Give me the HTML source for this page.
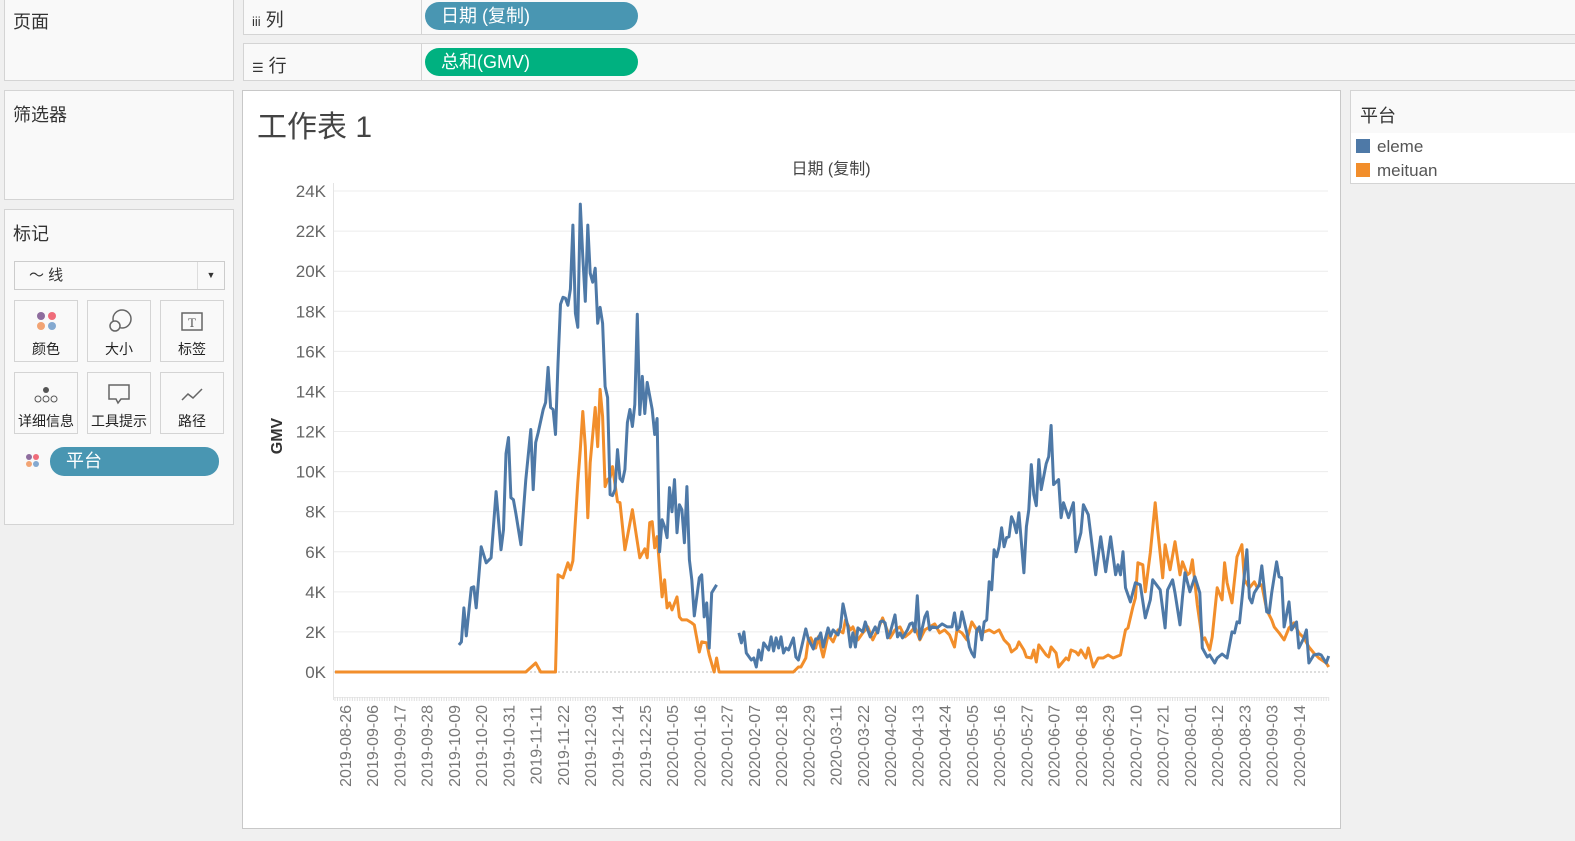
<!DOCTYPE html>
<html style="overflow:hidden;width:1575px;height:841px;margin:0;padding:0"><head><meta charset="utf-8">
<style>
html,body{margin:0;padding:0}
body{width:1575px;height:841px;background:#f0f0f0;font-family:"Liberation Sans","Noto Sans CJK SC",sans-serif;overflow:hidden;color:#333}
#root{position:fixed;left:0;top:0;width:1575px;height:841px;overflow:hidden;background:#f0f0f0}
.box{position:absolute;background:#f9f9f9;border:1px solid #d4d4d4;box-sizing:border-box}
.hd{position:absolute;font-size:18px;color:#333}
.pill{position:absolute;border-radius:14px;color:#fff;font-size:18px;padding-left:16px;box-sizing:border-box;line-height:28px}
.card{position:absolute;width:64px;height:62px;border:1px solid #d4d4d4;background:#f9f9f9;box-sizing:border-box;text-align:center;font-size:14px;color:#222}
.card .lb{position:absolute;bottom:2px;left:0;right:0}
</style></head><body>
<div id="root">
<div class="box" style="left:4px;top:-1px;width:230px;height:82px"><div class="hd" style="left:8px;top:8px">页面</div></div>
<div class="box" style="left:4px;top:90px;width:230px;height:110px"><div class="hd" style="left:8px;top:10px">筛选器</div></div>
<div class="box" style="left:4px;top:209px;width:230px;height:316px">
 <div class="hd" style="left:8px;top:10px">标记</div>
 <div style="position:absolute;left:9px;top:51px;width:211px;height:29px;border:1px solid #ccc;background:#f9f9f9;box-sizing:border-box;font-size:15px;line-height:27px;padding-left:14px">〜 线<span style="position:absolute;right:0;top:0;width:26px;height:27px;border-left:1px solid #ddd;text-align:center;font-size:9px">▼</span></div>
 <div class="card" style="left:9px;top:90px"><svg width="62" height="40"><circle cx="26" cy="15" r="4" fill="#8e6d9e"/><circle cx="37" cy="15" r="4" fill="#ef6c7a"/><circle cx="26" cy="25" r="4" fill="#f2a474"/><circle cx="37" cy="25" r="4" fill="#84a9d0"/></svg><div class="lb">颜色</div></div>
 <div class="card" style="left:82px;top:90px"><svg width="62" height="40"><circle cx="34" cy="18" r="9" fill="none" stroke="#666" stroke-width="1.5"/><circle cx="27" cy="25" r="5" fill="#f9f9f9" stroke="#666" stroke-width="1.5"/></svg><div class="lb">大小</div></div>
 <div class="card" style="left:155px;top:90px"><svg width="62" height="40"><rect x="21" y="12" width="20" height="17" fill="none" stroke="#666" stroke-width="1.5"/><text x="31" y="26" font-size="13" text-anchor="middle" fill="#555" font-family="Liberation Serif">T</text></svg><div class="lb">标签</div></div>
 <div class="card" style="left:9px;top:162px"><svg width="62" height="40"><circle cx="31" cy="17" r="3" fill="#555"/><circle cx="23" cy="26" r="3" fill="none" stroke="#555"/><circle cx="31" cy="26" r="3" fill="none" stroke="#555"/><circle cx="39" cy="26" r="3" fill="none" stroke="#555"/></svg><div class="lb">详细信息</div></div>
 <div class="card" style="left:82px;top:162px"><svg width="62" height="40"><path d="M21 12h20v14h-8l-3 4-2-4h-7z" fill="none" stroke="#666" stroke-width="1.5"/></svg><div class="lb">工具提示</div></div>
 <div class="card" style="left:155px;top:162px"><svg width="62" height="40"><path d="M21 27l6-6 5 4 9-9" fill="none" stroke="#666" stroke-width="1.5"/></svg><div class="lb">路径</div></div>
 <svg style="position:absolute;left:20px;top:243px" width="16" height="16"><circle cx="4" cy="4" r="3" fill="#8e6d9e"/><circle cx="11" cy="4" r="3" fill="#ef6c7a"/><circle cx="4" cy="11" r="3" fill="#f2a474"/><circle cx="11" cy="11" r="3" fill="#84a9d0"/></svg>
 <div class="pill" style="left:45px;top:237px;width:169px;height:29px;background:#4996b2">平台</div>
</div>
<div class="box" style="left:243px;top:-1px;width:1332px;height:36px;border-right:none"><div class="hd" style="left:8px;top:6px"><span style="font-size:13px">iii</span> 列</div><div style="position:absolute;left:177px;top:0;bottom:0;border-left:1px solid #d4d4d4"></div></div>
<div class="pill" style="left:425px;top:2px;width:213px;height:28px;background:#4996b2">日期 (复制)</div>
<div class="box" style="left:243px;top:43px;width:1332px;height:38px;border-right:none"><div class="hd" style="left:8px;top:8px"><span style="font-size:13px">☰</span> 行</div><div style="position:absolute;left:177px;top:0;bottom:0;border-left:1px solid #d4d4d4"></div></div>
<div class="pill" style="left:425px;top:48px;width:213px;height:28px;background:#00b180">总和(GMV)</div>
<div class="box" style="left:1350px;top:90px;width:225px;height:94px;background:#fff;border-right:none">
 <div style="position:absolute;left:0;top:0;right:0;height:42px;background:#f9f9f9"></div>
 <div class="hd" style="left:9px;top:11px">平台</div>
 <div style="position:absolute;left:5px;top:46px;font-size:17px;color:#555"><span style="display:inline-block;width:14px;height:14px;background:#4e79a7;vertical-align:-1px;margin-right:7px"></span>eleme</div>
 <div style="position:absolute;left:5px;top:70px;font-size:17px;color:#555"><span style="display:inline-block;width:14px;height:14px;background:#f28e2b;vertical-align:-1px;margin-right:7px"></span>meituan</div>
</div>
<div class="box" style="left:242px;top:90px;width:1099px;height:739px;background:#fff;border-color:#c8c8c8"></div>
<svg id="chart" width="1575" height="841" style="position:absolute;left:0;top:0;display:block" font-family="Liberation Sans, Noto Sans CJK SC, sans-serif"></svg>
</div>
<script>
const startDate = Date.UTC(2019,7,22);
const yTicks = [0,2,4,6,8,10,12,14,16,18,20,22,24];
const elemeDays = [50,51,52,53,55,56,57,58,59,61,63,65,67,68,69,70,71,72,73,75,77,79,80,81,82,84,85,86,87,88,89,90,91,92,93,94,95,96,97,98,99,100,101,102,103,104,105,106,107,108,109,110,111,112,113,114,115,116,117,118,119,120,121,122,123,124,125,126,128,129,130,131,132,133,134,135,136,137,138,139,140,141,142,143,144,145,147,148,149,150,151,152,154];
const elemeGMV = [1.35,1.5,3.2,1.8,4.2,4.25,3.2,4.7,6.25,5.45,5.7,9.0,6.1,7.1,10.9,11.7,8.7,8.6,7.9,6.35,9.6,12.1,9.1,11.45,11.95,13.1,13.45,15.2,13.2,13.1,11.85,15.4,18.35,18.7,18.65,18.3,19.1,22.3,17.9,17.2,23.35,20.7,18.5,22.3,19.9,19.45,20.15,17.4,18.2,17.4,14.25,13.7,8.85,8.8,9.1,11.1,9.65,9.5,10.1,12.45,13.1,12.25,13.35,17.85,12.85,14.75,12.9,14.45,13.1,11.85,12.65,6.0,7.6,7.25,6.7,9.2,8.0,9.6,6.95,8.35,8.1,6.45,9.25,5.6,4.6,2.8,4.7,4.85,2.75,3.45,1.2,3.95,4.35];
const elemeDays2 = [163,164,165,166,168,169,170,171,172,173,175,176,177,178,179,180,181,182,183,185,186,187,188,190,191,193,194,195,196,197,199,200,201,203,204,205,207,208,209,210,211,213,214,215,216,218,219,220,221,222,223,224,226,227,228,229,231,232,233,234,235,236,238,239,240,241,243,245,247,249,250,251,252,253,255,256,257,258,259,260,261,262,263,264,265,266,267,268,269,270,271,272,273,274,275,276,278,279,280,281,282,283,284,285,287,288,289,290,292,293,294,296,298,299,301,302,304,307,309,311,313,315,316,317,318,319,321,323,325,327,329,330,333,335,336,338,339,341,342,343,345,347,349,350,352,353,355,356,358,360,362,363,364,365,366,368,369,370,371,373,374,376,377,378,380,381,382,383,385,386,388,389,391,392,393,395,397,398,400,401];
const elemeGMV2 = [1.95,1.45,2.0,0.95,0.6,0.7,0.25,1.1,0.6,1.45,1.1,1.75,1.05,1.7,1.2,1.75,0.95,1.2,1.1,1.7,0.75,0.6,1.1,2.15,1.65,1.15,1.65,1.65,1.95,1.25,2.2,1.8,2.1,1.85,2.25,3.4,2.25,1.25,1.95,1.25,2.2,2.0,2.5,2.1,1.75,2.25,1.95,2.5,2.55,2.45,1.7,1.95,2.85,1.75,1.95,1.7,2.1,2.4,2.45,2.0,3.8,1.65,2.75,3.0,2.1,2.25,2.2,2.4,2.25,2.25,2.95,2.1,2.25,3.0,1.95,1.25,0.95,0.75,2.1,2.25,1.6,2.5,2.6,4.5,4.1,6.1,5.75,6.25,7.2,6.25,6.7,6.75,7.75,7.45,6.95,7.95,4.95,7.25,8.1,10.35,8.85,8.3,10.6,9.1,10.4,10.75,12.3,9.35,9.6,7.7,8.45,7.7,8.45,6.0,6.95,8.35,7.85,4.85,6.75,5.0,6.75,4.85,5.35,4.85,6.0,4.2,3.5,4.45,4.35,2.7,3.6,4.6,4.1,2.2,4.1,4.6,3.95,2.35,3.75,4.95,4.0,4.75,3.95,1.2,0.75,0.85,0.45,0.7,0.9,0.7,2.0,1.95,2.5,2.45,3.6,6.1,3.7,3.45,3.95,4.35,5.3,3.0,2.95,3.95,5.5,4.75,4.7,2.25,3.5,2.1,2.5,1.2,1.7,2.1,0.45,0.85,0.9,0.85,0.45,0.8];
const meituanDays = [0,77,81,83,89,90,92,94,95,96,98,99,100,101,102,103,105,106,107,108,109,110,111,112,114,115,117,118,120,122,123,125,126,127,128,129,130,132,133,134,135,136,138,139,140,142,144,145,147,148,150,151,153,154,155,185,187,188,190,191,192,194,195,197,199,201,203,205,206,208,209,211,213,215,217,219,221,224,226,228,230,232,234,236,238,240,242,244,246,248,250,251,253,255,257,259,261,264,266,268,270,272,273,275,276,278,279,281,282,283,284,287,288,289,291,292,295,296,297,299,300,301,303,304,306,308,310,312,314,315,317,319,320,322,323,324,326,327,329,331,332,334,335,337,339,341,342,344,345,346,348,350,351,353,354,356,358,359,360,362,364,366,367,369,371,372,374,376,378,379,381,383,385,387,389,391,393,395,397,400,401];
const meituanGMV = [0,0,0.45,0,0,4.85,4.7,5.45,5.1,5.55,9.45,11.1,13.0,11.25,7.7,10.45,13.2,11.25,14.1,12.75,9.25,9.6,9.7,10.25,8.5,8.45,6.1,6.75,8.1,6.5,5.7,6.15,5.7,7.45,7.5,6.2,6.75,3.75,4.6,3.2,3.45,3.1,3.75,2.75,2.6,2.6,2.45,2.35,1.0,1.5,1.45,0.85,0,0.7,0,0,0.25,0.25,0.7,1.6,1.7,1.2,1.75,0.75,1.85,1.5,2.1,1.95,2.6,2.1,2.25,1.6,1.95,2.25,1.6,2.1,2.7,1.7,2.1,2.25,1.75,1.95,2.25,1.6,2.1,2.25,2.4,1.95,2.1,1.85,1.25,2.1,1.95,1.6,2.5,2.1,1.95,2.1,1.95,2.1,1.6,1.35,1.0,1.2,1.5,1.1,0.75,0.7,1.1,0.5,1.35,0.85,0.75,1.25,0.95,0.25,0.7,0.6,1.1,1.0,0.85,1.1,0.7,1.2,0.25,0.7,0.7,0.85,0.7,0.75,0.85,2.1,2.2,3.25,3.7,5.45,5.35,4.0,5.95,8.45,7.1,4.7,6.35,5.1,6.5,4.85,5.5,4.85,4.95,5.6,3.35,1.6,1.7,1.1,1.75,4.2,3.6,5.45,4.45,3.45,5.75,6.35,4.6,4.2,4.5,4.25,4.35,3.1,2.6,2.25,1.95,1.6,2.2,2.45,1.95,1.7,1.25,0.95,0.7,0.45,0.25];
const tickDays = [4,15,26,37,48,59,70,81,92,103,114,125,136,147,158,169,180,191,202,213,224,235,246,257,268,279,290,301,312,323,334,345,356,367,378,389];

const svg = document.getElementById('chart');
const NS = 'http://www.w3.org/2000/svg';
const x = d => 335 + d * 2.478;
const y = v => 672 - v * 20.04;
function mk(tag, attrs, parent){const e=document.createElementNS(NS,tag);for(const k in attrs)e.setAttribute(k,attrs[k]);(parent||svg).appendChild(e);return e;}
function fmt(d){const t=new Date(startDate+d*86400000);return t.getUTCFullYear()+'-'+String(t.getUTCMonth()+1).padStart(2,'0')+'-'+String(t.getUTCDate()).padStart(2,'0');}

const title = mk('text',{x:257,y:137,'font-size':30,fill:'#444'});
title.textContent='工作表 1';


const xt = mk('text',{x:831,y:174,'font-size':16,fill:'#444','text-anchor':'middle'});
xt.textContent='日期 (复制)';


const yt = mk('text',{transform:'translate(282,436) rotate(-90)','font-size':16,'font-weight':'bold',fill:'#333','text-anchor':'middle'});
yt.textContent='GMV';



yTicks.forEach(v=>{
  const g = mk('line',{x1:334,x2:1328,y1:y(v*1),y2:y(v*1),stroke:v===0?'#bbb':'#ececec','stroke-width':1,'stroke-dasharray':v===0?'2,2':''});
  
  
  const t = mk('text',{x:326,y:y(v)+6,'font-size':17,fill:'#666','text-anchor':'end'});
  t.textContent=v+'K';
  
  
});
mk('line',{x1:333.5,x2:333.5,y1:183,y2:700,stroke:'#e4e4e4'});
mk('line',{x1:334,x2:1328,y1:697.5,y2:697.5,stroke:'#eaeaea'});
for(let d=0; d<=401; d++){ mk('line',{x1:x(d),x2:x(d),y1:697,y2:701,stroke:'#e0e0e0','stroke-width':1}); }
tickDays.forEach(d=>{
  const t = mk('text',{transform:`translate(${x(d)+6},705) rotate(-90)`,'font-size':16,fill:'#777','text-anchor':'end'});
  t.textContent=fmt(d);
  
  
});
function line(days, vals, color, name){
  const p = mk('polyline',{points:days.map((d,i)=>x(d).toFixed(1)+','+y(vals[i]).toFixed(1)).join(' '),fill:'none',stroke:color,'stroke-width':3,'stroke-linejoin':'round'});
  
  
}
line(meituanDays, meituanGMV, '#f28e2b', 'meituan-line');
line(elemeDays, elemeGMV, '#4e79a7', 'eleme-line');
line(elemeDays2, elemeGMV2, '#4e79a7', 'eleme-line-2');
</script>
</body></html>
